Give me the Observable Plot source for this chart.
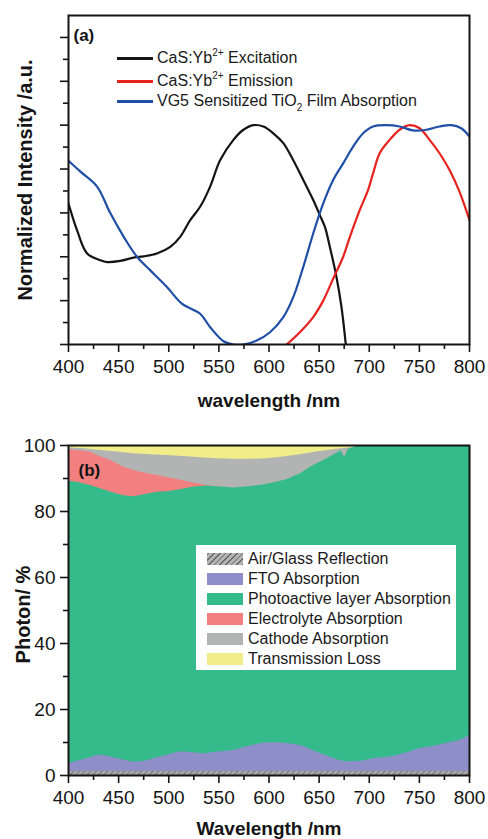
<!DOCTYPE html>
<html>
<head>
<meta charset="utf-8">
<script src="https://cdn.jsdelivr.net/npm/d3@7"></script>
<script src="https://cdn.jsdelivr.net/npm/@observablehq/plot@0.6"></script>
<style>
  html,body{margin:0;padding:0;background:#fff;}
  #wrap{position:relative;width:488px;height:839px;overflow:hidden;font-family:"Liberation Sans",Arial,Helvetica,sans-serif;color:#1a1a1a;}
  .panel{position:absolute;left:0;}
  .panel svg{display:block;overflow:visible;}
  .legA{position:absolute;font-size:16px;line-height:20px;white-space:nowrap;color:#1a1a1a;}
  .legA sup{font-size:10px;vertical-align:0;position:relative;top:-7px;}
  .legA sub{font-size:10px;vertical-align:0;position:relative;top:5px;}
  .legLine{position:absolute;height:3px;}
  #legB{position:absolute;left:196px;top:545px;width:260px;height:125px;background:#fff;}
  .sw{position:absolute;left:11px;width:36px;height:12px;}
  .lbB{position:absolute;left:52px;font-size:16px;line-height:20px;white-space:nowrap;color:#1a1a1a;}
</style>
</head>
<body>
<div id="wrap"></div>
<script>
// ---------- Panel (a) data ----------
const xTicks = [400, 450, 500, 550, 600, 650, 700, 750, 800];
const xMinor = [425, 475, 525, 575, 625, 675, 725, 775];
const aYMajor = [0, 0.2, 0.4, 0.6, 0.8, 1.0, 1.2, 1.4];
const aYMinor = [0.1, 0.3, 0.5, 0.7, 0.9, 1.1, 1.3];

const excWl  = [400, 408.6, 418.6, 431.8, 438.5, 451.7, 465, 475, 488.2, 501.5, 511.4, 521.4, 531.3, 541.3, 551.2, 564.5, 574.5, 584.4, 594.4, 604.3, 614.3, 624.2, 634.2, 644.1, 650.7, 655.7, 660.7, 667.3, 672.3, 676.6];
const excVal = [0.643, 0.52, 0.415, 0.384, 0.376, 0.381, 0.396, 0.402, 0.415, 0.445, 0.491, 0.567, 0.628, 0.72, 0.84, 0.933, 0.979, 1.0, 0.994, 0.963, 0.918, 0.84, 0.75, 0.659, 0.59, 0.537, 0.445, 0.308, 0.171, 0];

const emWl  = [617.6, 630.8, 644.1, 654.1, 664, 674, 680.6, 690.5, 698.8, 703.8, 710.4, 720.4, 730.3, 740.3, 750.2, 760.2, 770.1, 780.1, 790, 800];
const emVal = [0, 0.056, 0.125, 0.2, 0.3, 0.4, 0.49, 0.613, 0.704, 0.78, 0.872, 0.933, 0.979, 1.0, 0.986, 0.933, 0.872, 0.796, 0.697, 0.567];

const absWl  = [400, 411.9, 428.5, 441.8, 455.1, 468.3, 481.6, 498.2, 513.1, 531.3, 541.3, 554.6, 564.5, 574.5, 587.7, 601, 614.3, 624.2, 634.2, 644.1, 654.1, 664, 674, 683.9, 693.9, 703.8, 717.1, 730.3, 743.6, 756.9, 770.1, 781.8, 791.7, 800];
const absVal = [0.838, 0.788, 0.72, 0.598, 0.491, 0.40, 0.338, 0.262, 0.186, 0.14, 0.079, 0.015, 0, 0, 0.018, 0.056, 0.125, 0.216, 0.354, 0.506, 0.643, 0.75, 0.826, 0.902, 0.963, 0.994, 1.0, 0.994, 0.976, 0.979, 0.994, 1.0, 0.986, 0.948];

const legendALabels = ["CaS:Yb<sup>2+</sup> Excitation", "CaS:Yb<sup>2+</sup> Emission", "VG5 Sensitized TiO<sub>2</sub> Film Absorption"];
const legendAColors = ["#141414", "#e8231f", "#1f4fa6"];

// ---------- Panel (b) data (cumulative upper boundaries, %) ----------
const bYMajor = [0, 20, 40, 60, 80, 100];
const bYMinor = [10, 30, 50, 70, 90];

const airWl  = [400, 800];
const airTop = [1.2, 1.2];

const ftoWl  = [400, 408.6, 421.9, 431.8, 441.8, 455.1, 465, 478.3, 488.2, 498.2, 511.4, 524.7, 534.7, 547.9, 564.5, 577.8, 591, 601, 614.3, 630.8, 647.4, 660.7, 674, 690.5, 703.8, 720.4, 737, 750.2, 763.5, 776.8, 790, 800];
const ftoTop = [3.5, 4.3, 5.4, 6.1, 5.6, 4.7, 4.1, 4.5, 5.4, 6.1, 7.1, 6.9, 6.6, 7.1, 7.6, 8.6, 9.6, 9.9, 9.8, 9.1, 7.1, 5.6, 4.3, 4.3, 5.1, 5.6, 6.8, 8.1, 8.8, 9.8, 10.6, 12.1];

const photoWl  = [400, 408.6, 421.9, 431.8, 441.8, 455.1, 465, 478.3, 488.2, 498.2, 511.4, 524.7, 538, 551.2, 564.5, 577.8, 591, 604.3, 617.6, 630.8, 644.1, 657.4, 668, 672, 675.5, 679, 684, 690.5, 800];
const photoTop = [89.2, 88.9, 87.9, 86.9, 85.9, 84.8, 84.5, 85.2, 85.8, 86.0, 86.6, 87.4, 87.7, 87.4, 87.1, 87.4, 87.9, 88.6, 89.6, 91.4, 93.9, 95.9, 97.7, 98.4, 96.3, 98.8, 99.4, 100, 100];

const elWl  = [400, 408.6, 421.9, 428.5, 441.8, 455.1, 471.6, 488.2, 504.8, 521.4, 538, 551.2];
const elTop = [98.7, 98.5, 98, 97, 95.5, 93.4, 91.9, 90.9, 89.9, 88.9, 87.9, 87.4];

const cathWl  = [400, 415.3, 431.8, 448.4, 465, 481.6, 498.2, 514.8, 531.3, 547.9, 564.5, 581.1, 597.7, 614.3, 630.8, 647.4, 664, 674, 687.2, 690.5, 800];
const cathTop = [99.3, 99, 98.5, 98, 97.5, 97.2, 97, 96.7, 96.3, 96, 95.8, 95.8, 96, 96.5, 97.2, 98, 98.7, 99.1, 99.5, 100, 100];

const transWl  = [400, 800];
const transTop = [100, 100];

const legendBLabels = ["Air/Glass Reflection", "FTO Absorption", "Photoactive layer Absorption", "Electrolyte Absorption", "Cathode Absorption", "Transmission Loss"];
const legendBColors = ["hatch", "#8e8fc8", "#34ba8b", "#f28080", "#b2b4b4", "#f1ee8a"];

// ---------- helpers ----------
const FONT = "'Liberation Sans', Arial, Helvetica, sans-serif";
const rows = (wl, v) => wl.map((w, i) => ({wl: w, v: v[i]}));
const wrap = document.getElementById("wrap");
const INK = "#141414";

// ---------- Panel (a) ----------
const svgA = Plot.plot({
  width: 488, height: 420,
  marginLeft: 68, marginRight: 19, marginTop: 15, marginBottom: 76,
  style: {fontFamily: FONT, color: INK, background: "transparent", overflow: "visible"},
  x: {domain: [400, 800]},
  y: {domain: [0, 1.5]},
  marks: [
    Plot.line(rows(excWl, excVal), {x: "wl", y: "v", stroke: legendAColors[0], strokeWidth: 2.2, curve: "catmull-rom", clip: true}),
    Plot.line(rows(emWl, emVal), {x: "wl", y: "v", stroke: legendAColors[1], strokeWidth: 2.2, curve: "catmull-rom", clip: true}),
    Plot.line(rows(absWl, absVal), {x: "wl", y: "v", stroke: legendAColors[2], strokeWidth: 2.2, curve: "catmull-rom", clip: true}),
    Plot.axisX({ticks: xTicks, tickSize: 8, tickPadding: 7, fontSize: 19, strokeWidth: 1.6, label: null}),
    Plot.axisX({ticks: xMinor, tickSize: 5, tickFormat: () => "", strokeWidth: 1.6, label: null}),
    Plot.axisY({ticks: aYMajor, tickSize: 8, tickFormat: () => "", strokeWidth: 1.6, label: null}),
    Plot.axisY({ticks: aYMinor, tickSize: 5, tickFormat: () => "", strokeWidth: 1.6, label: null}),
    Plot.frame({stroke: INK, strokeWidth: 2}),
    Plot.text(["wavelength /nm"], {text: d => d, frameAnchor: "bottom", dy: 56, lineAnchor: "middle", textAnchor: "middle", fontSize: 19, fontWeight: "bold"}),
    Plot.text(["Normalized Intensity /a.u."], {text: d => d, frameAnchor: "left", dx: -43, rotate: -90, lineAnchor: "middle", textAnchor: "middle", fontSize: 20, fontWeight: "bold"}),
    Plot.text(["(a)"], {text: d => d, frameAnchor: "top-left", dx: 5, dy: 20, lineAnchor: "middle", textAnchor: "start", fontSize: 17, fontWeight: "bold"})
  ]
});
const pa = document.createElement("div");
pa.className = "panel"; pa.style.top = "0px";
pa.appendChild(svgA);
wrap.appendChild(pa);

// legend (a)
const legARowY = [58, 81, 101];
legendALabels.forEach((lab, i) => {
  const ln = document.createElement("div");
  ln.className = "legLine";
  ln.style.cssText = `left:117px;width:36px;top:${legARowY[i] - 1.5}px;background:${legendAColors[i]};`;
  wrap.appendChild(ln);
  const t = document.createElement("div");
  t.className = "legA";
  t.style.cssText = `left:157px;top:${legARowY[i] - 10}px;`;
  t.innerHTML = lab;
  wrap.appendChild(t);
});

// ---------- Panel (b) ----------
const svgB = Plot.plot({
  width: 488, height: 419,
  marginLeft: 68, marginRight: 19, marginTop: 25, marginBottom: 64,
  style: {fontFamily: FONT, color: INK, background: "transparent", overflow: "visible"},
  x: {domain: [400, 800]},
  y: {domain: [0, 100]},
  marks: [
    Plot.areaY(rows(transWl, transTop), {x: "wl", y1: 0, y2: "v", fill: legendBColors[5]}),
    Plot.areaY(rows(cathWl, cathTop), {x: "wl", y1: 0, y2: "v", fill: legendBColors[4]}),
    Plot.areaY(rows(elWl, elTop), {x: "wl", y1: 0, y2: "v", fill: legendBColors[3]}),
    Plot.areaY(rows(photoWl, photoTop), {x: "wl", y1: 0, y2: "v", fill: legendBColors[2]}),
    Plot.areaY(rows(ftoWl, ftoTop), {x: "wl", y1: 0, y2: "v", fill: legendBColors[1], curve: "catmull-rom"}),
    Plot.areaY(rows(airWl, airTop), {x: "wl", y1: 0, y2: "v", fill: "url(#hatchB)"}),
    Plot.axisX({ticks: xTicks, tickSize: 8, tickPadding: 7, fontSize: 19, strokeWidth: 1.6, label: null}),
    Plot.axisX({ticks: xMinor, tickSize: 5, tickFormat: () => "", strokeWidth: 1.6, label: null}),
    Plot.axisY({ticks: bYMajor, tickSize: 8, tickPadding: 5, fontSize: 19, strokeWidth: 1.6, label: null}),
    Plot.axisY({ticks: bYMinor, tickSize: 5, tickFormat: () => "", strokeWidth: 1.6, label: null}),
    Plot.frame({stroke: INK, strokeWidth: 2}),
    Plot.text(["Wavelength /nm"], {text: d => d, frameAnchor: "bottom", dy: 53, lineAnchor: "middle", textAnchor: "middle", fontSize: 19, fontWeight: "bold"}),
    Plot.text(["Photon/ %"], {text: d => d, frameAnchor: "left", dx: -45, dy: 4, rotate: -90, lineAnchor: "middle", textAnchor: "middle", fontSize: 20, fontWeight: "bold"}),
    Plot.text(["(b)"], {text: d => d, frameAnchor: "top-left", dx: 10, dy: 25, lineAnchor: "middle", textAnchor: "start", fontSize: 17, fontWeight: "bold"})
  ]
});
// hatch pattern
(function () {
  const ns = "http://www.w3.org/2000/svg";
  const defs = document.createElementNS(ns, "defs");
  const pat = document.createElementNS(ns, "pattern");
  pat.setAttribute("id", "hatchB");
  pat.setAttribute("patternUnits", "userSpaceOnUse");
  pat.setAttribute("width", "4");
  pat.setAttribute("height", "4");
  pat.setAttribute("patternTransform", "rotate(45)");
  const r = document.createElementNS(ns, "rect");
  r.setAttribute("width", "4"); r.setAttribute("height", "4"); r.setAttribute("fill", "#a8a8a8");
  const l = document.createElementNS(ns, "line");
  l.setAttribute("x1", "0"); l.setAttribute("y1", "0"); l.setAttribute("x2", "0"); l.setAttribute("y2", "4");
  l.setAttribute("stroke", "#666"); l.setAttribute("stroke-width", "1.5");
  pat.appendChild(r); pat.appendChild(l); defs.appendChild(pat);
  svgB.insertBefore(defs, svgB.firstChild);
})();
const pb = document.createElement("div");
pb.className = "panel"; pb.style.top = "420px";
pb.appendChild(svgB);
wrap.appendChild(pb);

// legend (b)
const legB = document.createElement("div");
legB.id = "legB";
legendBLabels.forEach((lab, i) => {
  const cy = 13.5 + 20 * i;
  const sw = document.createElement("div");
  sw.className = "sw";
  sw.style.top = (cy - 6) + "px";
  if (legendBColors[i] === "hatch") {
    sw.style.background = "repeating-linear-gradient(-45deg, #6a6a6a 0px, #6a6a6a 1px, #b4b4b4 1px, #b4b4b4 4px)";
  } else {
    sw.style.background = legendBColors[i];
  }
  legB.appendChild(sw);
  const t = document.createElement("div");
  t.className = "lbB";
  t.style.top = (cy - 10) + "px";
  t.textContent = lab;
  legB.appendChild(t);
});
wrap.appendChild(legB);
</script>
</body>
</html>
